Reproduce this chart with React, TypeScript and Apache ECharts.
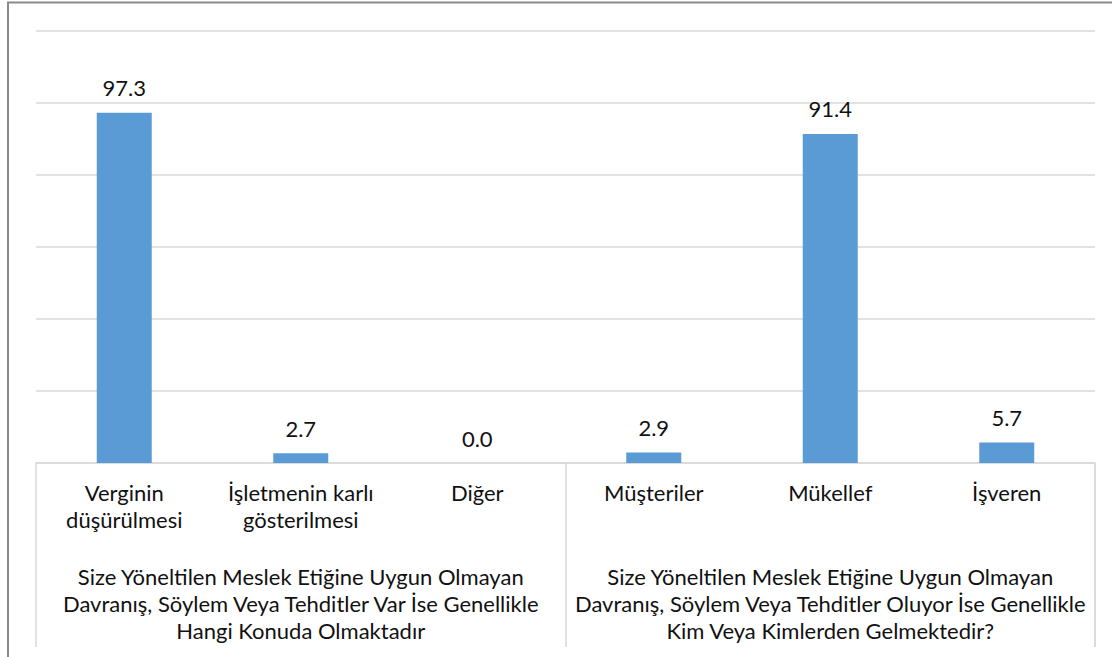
import React, { useEffect, useRef } from "react";
import * as echarts from "echarts";

const categories = [
  "Verginin\ndüşürülmesi",
  "İşletmenin karlı\ngösterilmesi",
  "Diğer",
  "Müşteriler",
  "Mükellef",
  "İşveren",
];
const groups = [
  "Size Yöneltilen Meslek Etiğine Uygun Olmayan\nDavranış, Söylem Veya Tehditler Var İse Genellikle\nHangi Konuda Olmaktadır",
  "Size Yöneltilen Meslek Etiğine Uygun Olmayan\nDavranış, Söylem Veya Tehditler Oluyor İse Genellikle\nKim Veya Kimlerden Gelmektedir?",
];
const values = [97.3, 2.7, 0.0, 2.9, 91.4, 5.7];

const FONT = "Lato, 'Open Sans', sans-serif";
const FS = 22;

export default function App() {
  const ref = useRef<HTMLDivElement>(null);
  useEffect(() => {
    if (!ref.current) return;
    const chart = echarts.init(ref.current, undefined, { renderer: "svg" });
    chart.setOption({
      animation: false,
      backgroundColor: "#ffffff",
      grid: { left: 36, right: 17, top: 31, bottom: 194 },
      xAxis: [
        {
          type: "category",
          data: categories,
          position: "bottom",
          axisLine: { show: true, lineStyle: { color: "#d9d9d9", width: 1.5 } },
          axisTick: { show: false },
          axisLabel: {
            margin: 16,
            fontFamily: FONT,
            fontSize: FS,
            lineHeight: 27,
            color: "#111",
            interval: 0,
          },
        },
        {
          type: "category",
          data: groups,
          position: "bottom",
          axisLine: { show: false },
          axisTick: { show: true, length: 184, lineStyle: { color: "#d9d9d9", width: 1.5 } },
          axisLabel: {
            margin: 100,
            fontFamily: FONT,
            fontSize: FS,
            lineHeight: 27,
            color: "#111",
            interval: 0,
          },
        },
      ],
      yAxis: {
        type: "value",
        min: 0,
        max: 120,
        interval: 20,
        axisLabel: { show: false },
        axisLine: { show: false },
        axisTick: { show: false },
        splitLine: { lineStyle: { color: "#d9d9d9", width: 1.5 } },
      },
      graphic: [
        {
          type: "rect",
          shape: { x: 8, y: 2.5, width: 1200, height: 700 },
          style: { fill: "none", stroke: "#8a8a8a", lineWidth: 2 },
          silent: true,
        },
        {
          type: "line",
          shape: { x1: 1095, y1: 463, x2: 1095, y2: 647 },
          style: { stroke: "#d9d9d9", lineWidth: 1.5 },
          silent: true,
        },
      ],
      series: [
        {
          type: "bar",
          xAxisIndex: 0,
          data: values,
          barWidth: 55,
          itemStyle: { color: "#5b9bd5" },
          label: {
            show: true,
            position: "top",
            distance: 14,
            fontFamily: FONT,
            fontSize: FS,
            color: "#111",
            formatter: (p: any) => Number(p.value).toFixed(1),
          },
        },
      ],
    });
    return () => chart.dispose();
  }, []);
  return (
    <div
      ref={ref}
      style={{ position: "fixed", left: 0, top: 0, width: 1112, height: 657 }}
    />
  );
}
